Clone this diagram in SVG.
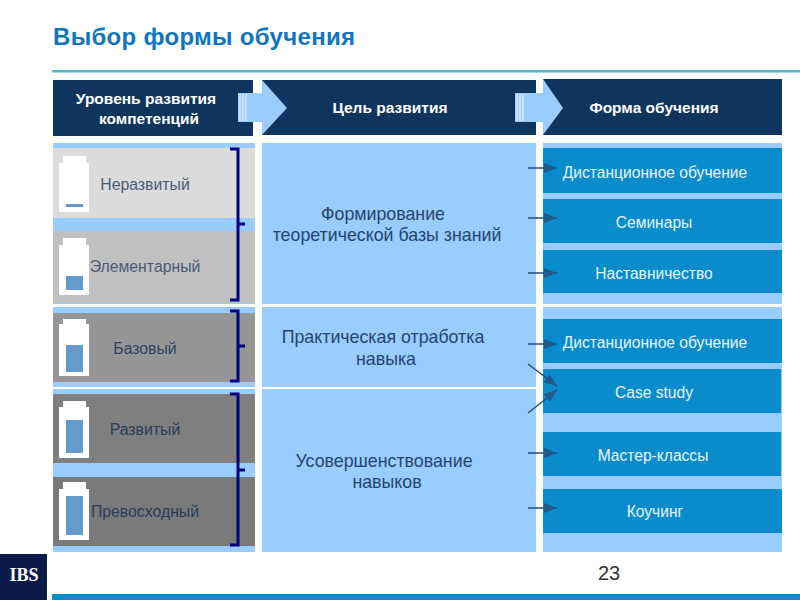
<svg xmlns="http://www.w3.org/2000/svg" width="800" height="600" viewBox="0 0 800 600">
<style>
text{font-family:"Liberation Sans",Arial,sans-serif}
.h{fill:#0f355f}.p{fill:#99ccff}.b{fill:#0a8bcb}.w{fill:#fff}.i{fill:#6699cc}
.ht{fill:#fff;font-size:15.5px;font-weight:bold;text-anchor:middle}
.bt{fill:#e6f6ff;font-size:15.6px;text-anchor:middle}
.lt{font-size:15.8px;text-anchor:middle}
.mt{fill:#24466e;font-size:17.8px;text-anchor:middle}
.br{fill:none;stroke:#000080;stroke-width:3}
.ar{stroke:#1f4f7c;stroke-width:1.5;fill:none;marker-end:url(#m)}
</style>
<defs><marker id="m" markerUnits="userSpaceOnUse" markerWidth="14" markerHeight="10" refX="13" refY="5" orient="auto"><path d="M0 0L13 5L0 10Z" fill="#1f5a88"/></marker></defs>
<rect width="800" height="600" fill="#fff"/>
<text x="53" y="45" font-size="24" font-weight="bold" fill="#0f75bc" letter-spacing=".3">Выбор формы обучения</text>
<rect x="52" y="70" width="748" height="2.5" fill="#4db8c8"/>
<g id="panels">
<rect class="p" x="53" y="143" width="202" height="161"/><rect class="p" x="53" y="307" width="202" height="80"/><rect class="p" x="53" y="389" width="202" height="163"/>
<rect class="p" x="543" y="143" width="239" height="161"/><rect class="p" x="543" y="307" width="239" height="245"/>
</g>
<g id="header-level"><rect class="h" x="53" y="80" width="200" height="56"/><text class="ht" x="146" y="104">Уровень развития</text><text class="ht" x="149" y="124">компетенций</text></g>
<g id="header-goal"><rect class="h" x="262" y="80" width="274" height="55"/><text class="ht" x="390" y="113">Цель развития</text></g>
<g id="header-form"><rect class="h" x="543" y="79" width="239" height="56"/><text class="ht" x="654" y="113">Форма обучения</text></g>
<g id="arrow-1"><rect x="253" y="93" width="10" height="29" fill="#fff"/><path class="p" d="M262 80L287 108L262 135V122H238V93H262Z"/><path d="M240 94V121M243 94V121M246 94V121" stroke="#fff" stroke-width="1"/></g>
<g id="arrow-2"><rect x="536" y="93" width="7" height="29" fill="#fff"/><path class="p" d="M543 79L563 108L543 135V122H515V93H543Z"/><path d="M517 94V121M520 94V121M523 94V121" stroke="#fff" stroke-width="1"/></g>
<g id="level-1"><rect x="53" y="148" width="202" height="70" fill="#dcdcdc"/><path class="w" d="M63 156H86V163H89V212H59V163H63Z"/><rect class="i" x="66" y="204" width="17" height="3"/><text class="lt" x="145" y="190" fill="#4b5a75">Неразвитый</text></g>
<g id="level-2"><rect x="53" y="231" width="202" height="72" fill="#c0c0c0"/><path class="w" d="M63 238H86V245H89V295H59V245H63Z"/><rect class="i" x="66" y="276" width="17" height="14"/><text class="lt" x="145" y="272" fill="#4b5a75">Элементарный</text></g>
<g id="level-3"><rect x="53" y="313" width="202" height="69" fill="#969696"/><path class="w" d="M63 319H86V324H89V376H59V324H63Z"/><rect class="i" x="66" y="345" width="17" height="27"/><text class="lt" x="145" y="354" fill="#31415f">Базовый</text></g>
<g id="level-4"><rect x="53" y="394" width="202" height="69" fill="#7f7f7f"/><path class="w" d="M63 401H86V407H89V458H59V407H63Z"/><rect class="i" x="66" y="420" width="17" height="33"/><text class="lt" x="145" y="435" fill="#2b3a58">Развитый</text></g>
<g id="level-5"><rect x="53" y="477" width="202" height="69" fill="#7a7a7a"/><path class="w" d="M63 482H86V489H89V540H59V489H63Z"/><rect class="i" x="66" y="496" width="17" height="39"/><text class="lt" x="145" y="517" fill="#2b3a58">Превосходный</text></g>
<g id="goal-1"><rect class="p" x="262" y="143" width="274" height="161"/><text class="mt" x="383" y="220">Формирование</text><text class="mt" x="387" y="241">теоретической базы знаний</text></g>
<g id="goal-2"><rect class="p" x="262" y="307" width="274" height="80"/><text class="mt" x="383" y="343">Практическая отработка</text><text class="mt" x="386" y="365">навыка</text></g>
<g id="goal-3"><rect class="p" x="262" y="389" width="274" height="163"/><text class="mt" x="384" y="467">Усовершенствование</text><text class="mt" x="387" y="488">навыков</text></g>
<g id="form-1"><rect class="b" x="543" y="148" width="239" height="45"/><text class="bt" x="655" y="177.500">Дистанционное обучение</text></g>
<g id="form-2"><rect class="b" x="543" y="199" width="239" height="44"/><text class="bt" x="654" y="227.500">Семинары</text></g>
<g id="form-3"><rect class="b" x="543" y="250" width="239" height="43"/><text class="bt" x="654" y="278.500">Наставничество</text></g>
<g id="form-4"><rect class="b" x="543" y="319" width="239" height="44"/><text class="bt" x="655" y="347.500">Дистанционное обучение</text></g>
<g id="form-5"><rect class="b" x="543" y="369" width="238" height="44"/><text class="bt" x="654" y="397.500">Case study</text></g>
<g id="form-6"><rect class="b" x="543" y="432" width="238" height="44"/><text class="bt" x="653" y="460.500">Мастер-классы</text></g>
<g id="form-7"><rect class="b" x="543" y="489" width="239" height="44"/><text class="bt" x="655" y="516.500">Коучинг</text></g>
<g id="brackets">
<path class="br" d="M230 149H238V300H230M238 224H245"/>
<path class="br" d="M230 311H238V381H230M238 346H245"/>
<path class="br" d="M230 394H238V545H230M238 470H245"/>
</g>
<g id="connectors">
<path class="ar" d="M528 168H557"/><path class="ar" d="M528 218H557"/><path class="ar" d="M528 273H557"/><path class="ar" d="M528 344H557"/><path class="ar" d="M528 364L557 386"/><path class="ar" d="M528 413L557 390"/><path class="ar" d="M528 453H557"/><path class="ar" d="M528 508H557"/>
</g>
<text x="609" y="580" font-size="20" fill="#333" text-anchor="middle">23</text>
<rect x="52" y="594" width="748" height="6" fill="#0a8bcb"/>
<g id="logo"><rect x="0" y="554" width="47" height="46" fill="#0a1a4a"/><text x="24" y="581" font-size="18" font-weight="bold" fill="#fff" text-anchor="middle" style="font-family:'Liberation Serif',serif">IBS</text></g>
</svg>
